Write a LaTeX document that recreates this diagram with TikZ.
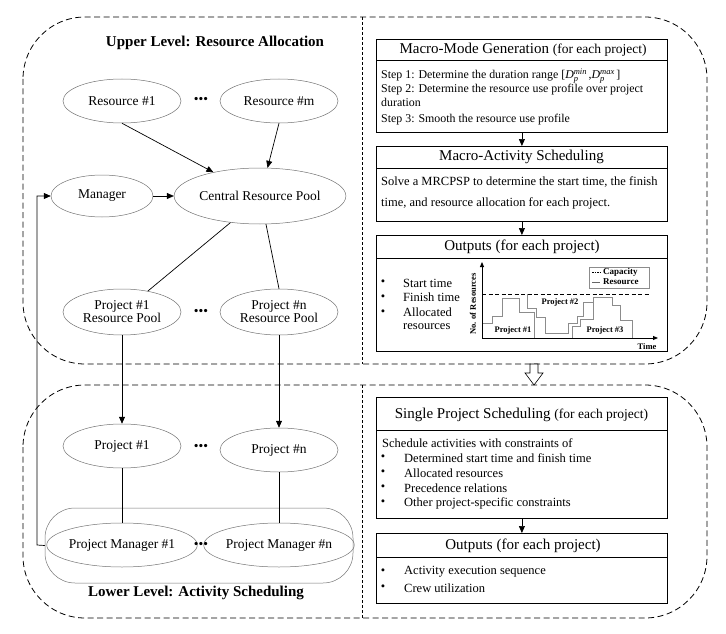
\documentclass[tikz,border=0pt]{standalone}
\usepackage{fontspec}
\setmainfont{Liberation Serif}
\usetikzlibrary{shapes.geometric,arrows.meta}
\newcommand\myhdr{\fontsize{15}{17}\selectfont}
\newcommand\mysub{\fontsize{13.5}{15}\selectfont}
\newcommand\mybdy{\fontsize{12.5}{14}\selectfont}
\newcommand\mystep{\fontsize{11.9}{14}\selectfont}
\newcommand\mynd{\fontsize{13.5}{15}\selectfont}
\newcommand\mych{\fontsize{8.5}{10}\selectfont\bfseries}
\newcommand\dsub[1]{\textit{D}\hbox{\fontsize{8.5}{9}\selectfont\rlap{\raisebox{-2.8pt}{\textit{p}}}\raisebox{4.2pt}{\textit{#1}}}}
\begin{document}
\begin{tikzpicture}[x=1pt,y=-1pt,
  ell/.style={ellipse,draw=black!55,line width=0.5pt,inner sep=0pt,font=\mynd,align=center},
  arr/.style={-{Triangle[length=7pt,width=6pt]},line width=0.7pt},
  ln/.style={line width=0.7pt},
  outer/.style={dash pattern=on 6pt off 3.5pt,line width=0.8pt,rounded corners=62pt},
  divider/.style={dash pattern=on 3pt off 2pt,line width=0.5pt},
  box/.style={draw,line width=0.8pt,anchor=north west,minimum width=291pt,inner sep=0pt},
  txt/.style={anchor=west,inner sep=0pt,font=\mybdy},
  hd/.style={inner sep=0pt,font=\myhdr},
  dots/.style={inner sep=0pt,font=\mynd},
  bul/.style={inner sep=0pt,font=\mybdy},
  chl/.style={inner sep=0pt,font=\mych},
  prof/.style={draw=black!45,line width=0.9pt}
]
\useasboundingbox (0,0) rectangle (726,634);
% outer dashed regions
\draw[outer] (23,17) rectangle (707,364);
\draw[outer] (23,385) rectangle (707,618);
\draw[divider] (362,17) -- (362,364);
\draw[divider] (362,385) -- (362,618);
% transfer arrow
\draw[fill=white,line width=0.6pt] (530,364) -- (538,364) -- (538,373) -- (543,373) -- (534,385) -- (525,373) -- (530,373) -- cycle;

% titles
\node[inner sep=0pt,font=\fontsize{15}{17}\selectfont\bfseries] (t1) at (215,43) {Upper Level: Resource Allocation};
\node[inner sep=0pt,font=\fontsize{15}{17}\selectfont\bfseries] (t2) at (196,593) {Lower Level: Activity Scheduling};

% left nodes
\node[ell,minimum width=118pt,minimum height=44pt] (res1) at (122,101) {Resource \#1};
\node[ell,minimum width=118pt,minimum height=44pt] (resm) at (279,101) {Resource \#m};
\node[dots] (d1) at (201,100) {•••};
\node[ell,minimum width=102pt,minimum height=42pt] (mgr) at (102,196) {Manager};
\node[ell,minimum width=156pt,minimum height=56pt] (crp) at (260,196) {Central Resource Pool};
\node[ell,minimum width=118pt,minimum height=46pt] (p1rp) at (122,312) {Project \#1\\[-2pt]Resource Pool};
\node[ell,minimum width=118pt,minimum height=46pt] (pnrp) at (279,312) {Project \#n\\[-2pt]Resource Pool};
\node[dots] (d2) at (201,312) {•••};
\node[ell,minimum width=118pt,minimum height=44pt] (p1) at (122,446) {Project \#1};
\node[ell,minimum width=118pt,minimum height=44pt] (pn) at (279,450) {Project \#n};
\node[dots] (d3) at (201,447) {•••};
\node[draw=black!55,line width=0.5pt,rounded corners=30pt,minimum width=308pt,minimum height=75pt,inner sep=0pt] (cont) at (199,545.5) {};
\node[ell,minimum width=136pt,minimum height=44pt] (pm1) at (122,545) {Project Manager \#1};
\node[ell,minimum width=136pt,minimum height=44pt] (pmn) at (279,545) {Project Manager \#n};
\node[dots] (d4) at (201,545) {•••};

% left connectors
\draw[arr] (res1.south) -- (crp.153);
\draw[arr] (resm.south) -- (crp.75);
\draw[arr] (mgr.east) -- (crp.west);
\draw[ln] (crp.222) -- (p1rp.39);
\draw[ln] (crp.282) -- (pnrp.north);
\draw[arr] (p1rp.south) -- (p1.north);
\draw[arr] (pnrp.south) -- (pn.north);
\draw[ln] (p1.south) -- (pm1.north);
\draw[ln] (pn.south) -- (pmn.north);
\coordinate (fb) at (37,545);
\draw[arr] (cont.west) -- (fb) |- (mgr.west);

% right boxes
\node[box,minimum height=93pt] (b1) at (376,39) {};
\draw[line width=0.8pt] (376,60) -- (667,60);
\node[hd] (h1) at (523,49.5) {Macro-Mode Generation {\mysub(for each project)}};
\node[txt,font=\mystep] (s1) at (381,76) {Step 1: Determine the duration range [\dsub{min}\,,\dsub{max}\,]};
\node[txt,font=\mystep] (s2) at (381,89.5) {Step 2: Determine the resource use profile over project};
\node[txt,font=\mystep] (s2b) at (381,102.5) {duration};
\node[txt,font=\mystep] (s3) at (381,120) {Step 3: Smooth the resource use profile};

\node[box,minimum height=75pt] (b2) at (376,146) {};
\draw[line width=0.8pt] (376,168) -- (667,168);
\node[hd] (h2) at (521.5,157) {Macro-Activity Scheduling};
\node[txt] (m1) at (381,182) {Solve a MRCPSP to determine the start time, the finish};
\node[txt] (m2) at (381,203) {time, and resource allocation for each project.};

\node[box,minimum height=116pt] (b3) at (376,235) {};
\draw[line width=0.8pt] (376,258) -- (667,258);
\node[hd] (h3) at (522,246.5) {Outputs (for each project)};
\node[bul] (o1b) at (383,283) {•};
\node[txt] (o1) at (403,283) {Start time};
\node[bul] (o2b) at (383,297.5) {•};
\node[txt] (o2) at (403,297.5) {Finish time};
\node[bul] (o3b) at (383,312.5) {•};
\node[txt] (o3) at (403,312.5) {Allocated};
\node[txt] (o4) at (403,327) {resources};

% chart
\draw[prof] (482,323) -- (492,323) -- (492,316) -- (502,316) -- (502,298) -- (519,298) -- (519,312) -- (534,312) -- (534,338);
\draw[prof] (527,294) -- (527,308) -- (536,308) -- (536,317) -- (545,317) -- (545,333) -- (568,333) -- (568,323) -- (577,323) -- (577,316) -- (583,316) -- (583,302) -- (593,302);
\draw[prof] (572,338) -- (572,326) -- (580,326) -- (580,319) -- (593,319) -- (593,297) -- (612,297) -- (612,305) -- (620,305) -- (620,320) -- (632,320) -- (632,338);
\draw[dash pattern=on 4pt off 2.5pt,line width=0.9pt] (482,294) -- (650,294);
\draw[-{Triangle[length=5pt,width=4pt]},line width=0.9pt] (482,338) -- (482,262);
\draw[-{Triangle[length=5pt,width=4pt]},line width=0.9pt] (482,338) -- (658,338);
\node[chl,rotate=90] (yl) at (473,304) {No. of Resources};
\node[chl] (xl) at (647,346.5) {Time};
\node[chl] (pl1) at (513,330) {Project \#1};
\node[chl] (pl2) at (560,302) {Project \#2};
\node[chl] (pl3) at (605,330) {Project \#3};
\node[draw=black!45,line width=0.6pt,minimum width=60pt,minimum height=21pt,inner sep=0pt] (leg) at (619,277.5) {};
\draw[dash pattern=on 1.5pt off 1pt,line width=0.6pt] (592,272) -- (600,272);
\draw[black!60,line width=0.6pt] (592,282) -- (600,282);
\node[chl,anchor=west,font=\fontsize{9}{10}\selectfont\bfseries] (lg1) at (603,272) {Capacity};
\node[chl,anchor=west,font=\fontsize{9}{10}\selectfont\bfseries] (lg2) at (603,282) {Resource};

% lower right boxes
\node[box,minimum height=121pt] (b4) at (376,397) {};
\draw[line width=0.8pt] (376,430) -- (667,430);
\node[hd] (h4) at (521.5,414.5) {Single Project Scheduling {\mysub(for each project)}};
\node[txt] (c0) at (382,443) {Schedule activities with constraints of};
\node[bul] (c1b) at (383,458) {•};
\node[txt] (c1) at (404,458) {Determined start time and finish time};
\node[bul] (c2b) at (383,473) {•};
\node[txt] (c2) at (404,473) {Allocated resources};
\node[bul] (c3b) at (383,488) {•};
\node[txt] (c3) at (404,488) {Precedence relations};
\node[bul] (c4b) at (383,503) {•};
\node[txt] (c4) at (404,503) {Other project-specific constraints};

\node[box,minimum height=70pt] (b5) at (376,533) {};
\draw[line width=0.8pt] (376,557) -- (667,557);
\node[hd] (h5) at (523,545.5) {Outputs (for each project)};
\node[bul] (e1b) at (383,572) {•};
\node[txt] (e1) at (404,572) {Activity execution sequence};
\node[bul] (e2b) at (383,588) {•};
\node[txt] (e2) at (404,588) {Crew utilization};

% right arrows
\draw[arr] (b1.south) -- (b2.north);
\draw[arr] (b2.south) -- (b3.north);
\draw[arr] (b4.south) -- (b5.north);
\end{tikzpicture}
\end{document}
